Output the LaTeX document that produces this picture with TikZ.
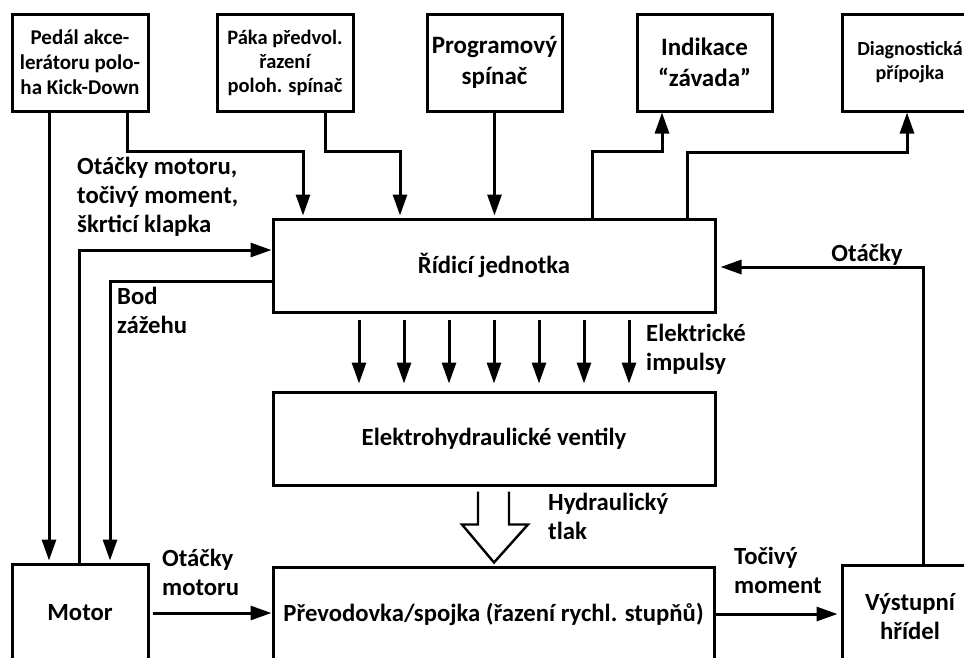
\documentclass[tikz,border=0pt]{standalone}
\usepackage{fontspec}
\setmainfont{Carlito}
\usetikzlibrary{arrows.meta,calc}

\tikzset{
  box/.style={draw, line width=3pt, inner sep=0pt, align=center,
    font=\fontsize{24.7}{29}\selectfont\bfseries},
  topbox/.style={box, minimum width=136pt, minimum height=97pt},
  wide/.style={box, minimum width=442pt, minimum height=93pt},
  arr/.style={line width=3pt, -{Triangle[length=21pt,width=14pt]}},
  lbl/.style={inner sep=0pt, anchor=north west, align=left,
    font=\fontsize{24.7}{29}\selectfont\bfseries},
}

\begin{document}
\begin{tikzpicture}[x=1pt,y=-1pt]
\clip (0,0) rectangle (964,657);
\fill[white] (0,0) rectangle (964,657);

% input and output boxes along the top
\node[topbox, font=\fontsize{21}{25}\selectfont\bfseries] (pedal) at (80,62.5)
  {Pedál akce-\\lerátoru polo-\\ha Kick-Down};
\node[topbox, font=\fontsize{20.5}{24}\selectfont\bfseries] (paka) at (285,62.5)
  {Páka předvol.\\řazení\\poloh. spínač};
\node[topbox, minimum width=135pt, font=\fontsize{25}{31}\selectfont\bfseries] (prog) at (494.5,62.5)
  {Programový\\spínač};
\node[topbox, minimum width=135pt, font=\fontsize{25}{31}\selectfont\bfseries] (indik) at (704.5,62.5)
  {Indikace\\“závada”};
\node[topbox, font=\fontsize{20}{24}\selectfont\bfseries] (diag) at (910,62.5)
  {Diagnostická\\přípojka};

% central blocks
\node[wide] (ridici) at (494,265.5) {Řídicí jednotka};
\node[wide] (elektro) at (494,438.5) {Elektrohydraulické ventily};

% drive train along the bottom
\node[topbox, minimum height=98pt] (motor) at (80,613) {Motor};
\node[box, minimum width=441pt, minimum height=94pt] (prevod) at (493.5,614)
  {Převodovka/spojka (řazení rychl. stupňů)};
\node[topbox, minimum height=104pt] (vystup) at (910,617) {Výstupní\\hřídel};

% signals into the control unit
\draw[arr] ($(pedal.south)+(-31,0)$) -- ($(motor.north)+(-31,-2)$);
\draw[arr] ($(pedal.south)+(47,0)$) -- ++(0,39) -| ($(ridici.north)+(-191,-2)$);
\draw[arr] ($(paka.south)+(40,0)$) -- ++(0,39) -| ($(ridici.north)+(-94,-2)$);
\draw[arr] (prog.south) -- ($(prog.south |- ridici.north)+(0,-2)$);

% outputs of the control unit
\draw[arr] ($(ridici.north)+(98,0)$) |- ($(indik.south)+(-42.5,39)$)
  -- ($(indik.south)+(-42.5,0)$);
\draw[arr] ($(ridici.north)+(193,0)$) |- ($(diag.south)+(-3,40)$)
  -- ($(diag.south)+(-3,0)$);

% engine signals
\draw[arr] ($(motor.north)+(-1,0)$) |- ($(ridici.west)+(0,-15.5)$);
\draw[arr] ($(ridici.west)+(0,15.5)$) -| ($(motor.north)+(30,-2)$);

% output shaft speed feedback
\draw[arr, shorten >=4pt] ($(vystup.north)+(13,0)$) |- ($(ridici.east)+(0,1.5)$);

% electric pulses to the valves
\foreach \dx in {-135,-90,-45,0,45,90,135}
  \draw[arr] ($(ridici.south)+(\dx,6)$) -- ($(elektro.north)+(\dx,-7)$);

% hydraulic pressure (hollow arrow)
\draw[line width=2.4pt, line join=miter]
  ($(elektro.south)+(-16,5)$) -- ($(elektro.south)+(-16,38)$)
  -- ($(elektro.south)+(-32,38)$) -- ($(elektro.south)+(0,76)$)
  -- ($(elektro.south)+(34,38)$) -- ($(elektro.south)+(15,38)$)
  -- ($(elektro.south)+(15,5)$);

% torque flow
\draw[arr] ($(motor.east)+(3,0)$) -- (motor.east -| prevod.west);
\draw[arr] (prevod.east) -- ($(prevod.east -| vystup.west)+(-3,0)$);

% labels
\node[lbl] (l1) at (77,157) {Otáčky motoru,\\točivý moment,\\škrticí klapka};
\node[lbl] (l2) at (117,287) {Bod\\zážehu};
\node[lbl] (l3) at (646,324) {Elektrické\\impulsy};
\node[lbl] (l4) at (548,493) {Hydraulický\\tlak};
\node[lbl, anchor=center] (l5) at (867,255) {Otáčky};
\node[lbl] (l6) at (162,549) {Otáčky\\motoru};
\node[lbl] (l7) at (734,547) {Točivý\\moment};
\end{tikzpicture}
\end{document}
